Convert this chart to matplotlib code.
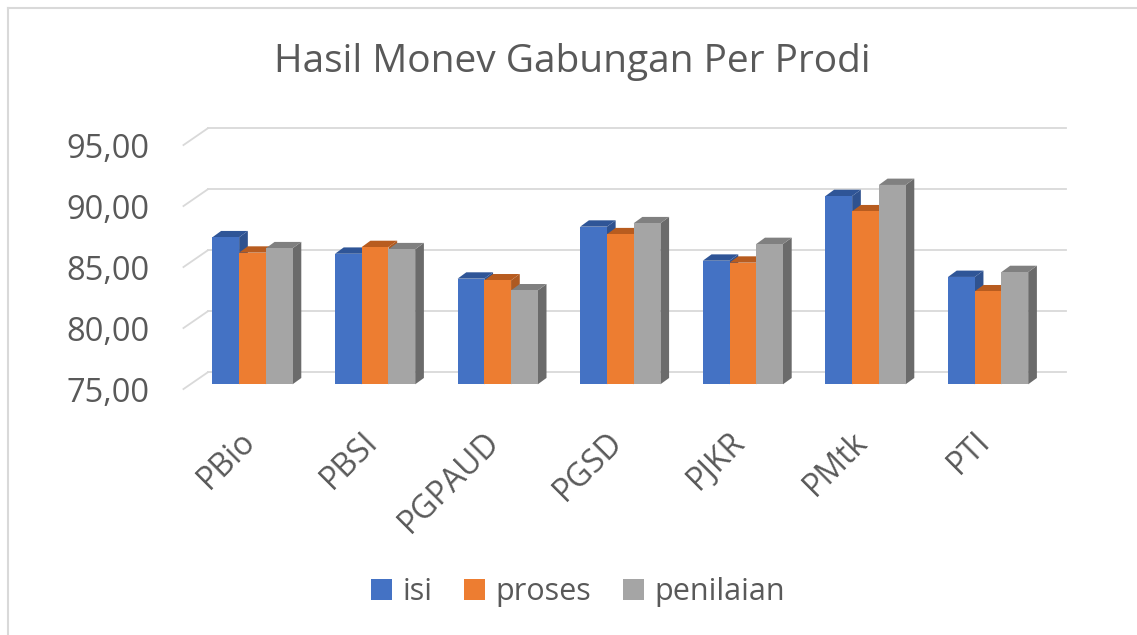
import matplotlib.pyplot as plt
from matplotlib.patches import Polygon, Patch
from matplotlib.lines import Line2D

# data
categories = ['PBio', 'PBSI', 'PGPAUD', 'PGSD', 'PJKR', 'PMtk', 'PTI']
isi = [87.05, 85.70, 83.66, 87.92, 85.13, 90.43, 83.80]
proses = [85.79, 86.25, 83.52, 87.30, 84.97, 89.18, 82.62]
penilaian = [86.15, 86.07, 82.70, 88.20, 86.50, 91.34, 84.20]
series_names = ['isi', 'proses', 'penilaian']
y_ticks = [75, 80, 85, 90, 95]

# colours: front face, top, side
front_colors = ['#4472C4', '#ED7D31', '#A5A5A5']
top_colors = ['#2F5597', '#B85C1F', '#808080']
side_colors = ['#2F528F', '#AE5A21', '#6B6B6B']
text_color = '#595959'
grid_color = '#D9D9D9'

plt.rcParams['font.family'] = ['Open Sans', 'DejaVu Sans']

W, H = 1137, 635
fig = plt.figure(figsize=(W / 100, H / 100), dpi=100)

# axes cover the whole figure, data units mapped onto pixels
X0_PX, CAT_PX = 252.5, 122.6      # centre of first category, px per category
BASE, Y0_PX, UNIT_PX = 75, 384.3, 12.2
ax = fig.add_axes([0, 0, 1, 1])
ax.set_xlim(-X0_PX / CAT_PX, (W - X0_PX) / CAT_PX)
ax.set_ylim(BASE - (H - Y0_PX) / UNIT_PX, BASE + Y0_PX / UNIT_PX)
ax.axis('off')

# 3d offsets (relative to the bar front plane)
DX_BACK, DY_BACK = 0.135, 0.98     # back wall
DX_FLOOR, DY_FLOOR = -0.063, -0.39  # front edge of floor
DX_BAR, DY_BAR = 0.071, 0.52       # bar depth
BW = 0.218
n = len(categories)
x_left, x_right = -0.5, n - 0.5

# gridlines on back wall and left wall
for v in y_ticks:
    ax.plot([x_left + DX_FLOOR, x_left + DX_BACK], [v + DY_FLOOR, v + DY_BACK],
            color=grid_color, lw=1.3, zorder=1)
    ax.plot([x_left + DX_BACK, x_right + DX_BACK], [v + DY_BACK, v + DY_BACK],
            color=grid_color, lw=1.3, zorder=1)
    ax.text(x_left + DX_FLOOR - 0.28, v + DY_FLOOR - 0.33, f'{v:.2f}'.replace('.', ','),
            ha='right', va='center', fontsize=23.5, color=text_color)

# bars
all_series = [isi, proses, penilaian]
for i in range(n):
    for k, vals in enumerate(all_series):
        v = vals[i]
        xc = i + (k - 1) * BW
        x0, x1 = xc - BW / 2, xc + BW / 2
        side = Polygon([(x1, BASE), (x1 + DX_BAR, BASE + DY_BAR),
                        (x1 + DX_BAR, v + DY_BAR), (x1, v)],
                       closed=True, facecolor=side_colors[k], edgecolor='none', zorder=2)
        top = Polygon([(x0, v), (x0 + DX_BAR, v + DY_BAR),
                       (x1 + DX_BAR, v + DY_BAR), (x1, v)],
                      closed=True, facecolor=top_colors[k], edgecolor='none', zorder=2)
        ax.add_patch(side)
        ax.add_patch(top)
        ax.bar(xc, v - BASE, bottom=BASE, width=BW, color=front_colors[k],
               edgecolor='none', zorder=2)

# category labels, rotated
for i, c in enumerate(categories):
    ax.text(i - 0.02, BASE - 4.3, c, rotation=45, rotation_mode='anchor',
            ha='right', va='center', fontsize=23, color=text_color)

# title
fig.text(572 / W, 1 - 72 / H, 'Hasil Monev Gabungan Per Prodi', ha='center',
         va='baseline', fontsize=28, color=text_color)

# legend
handles = [Patch(facecolor=c, edgecolor='none') for c in front_colors]
fig.legend(handles, series_names, loc='center', bbox_to_anchor=(578 / W, 1 - 592 / H),
           ncol=3, frameon=False, fontsize=22, handlelength=0.69, handleheight=0.69,
           handletextpad=0.33, columnspacing=1.05, borderpad=0, labelcolor=text_color)

# chart border (only top and left visible in the crop)
fig.add_artist(Line2D([7.5 / W, 7.5 / W], [0, 1 - 7.5 / H], color=grid_color, lw=1.5))
fig.add_artist(Line2D([7.5 / W, 1], [1 - 7.5 / H, 1 - 7.5 / H], color=grid_color, lw=1.5))

fig.savefig('out.png', dpi=100)
